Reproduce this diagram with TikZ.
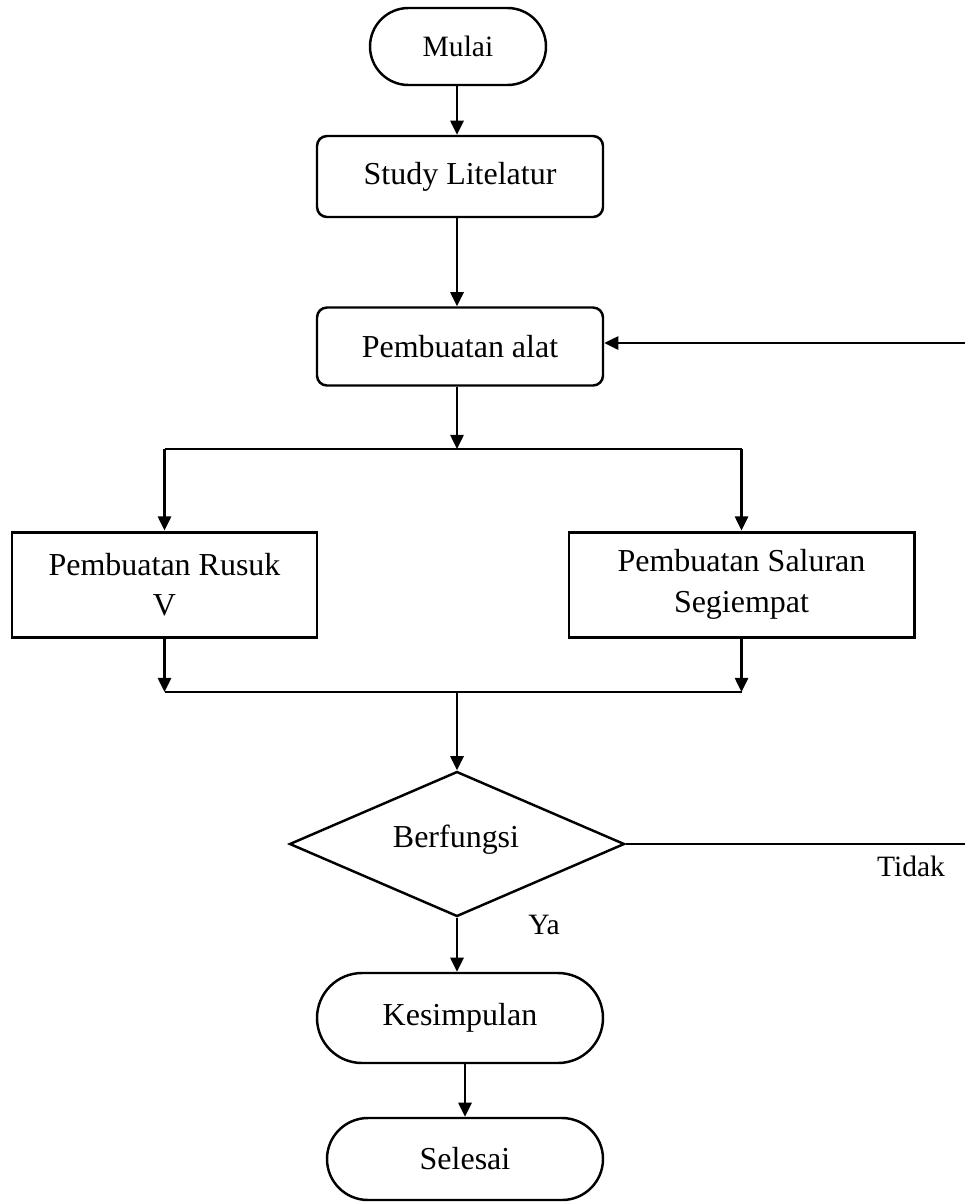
\documentclass[tikz,border=0pt]{standalone}
\usepackage{fontspec}
\setmainfont{Liberation Serif}
\usepackage{tikz}
\usetikzlibrary{arrows.meta,shapes.geometric,shapes.misc}

\tikzset{
  garis/.style={line width=1.2pt},
  terminal/.style={draw, line width=1.4pt, rounded rectangle, inner sep=0pt},
  proses/.style={draw, line width=1.4pt, rectangle, rounded corners=0.2cm, inner sep=0pt},
  kotak/.style={draw, line width=1.7pt, rectangle, inner sep=0pt, align=center},
  putusan/.style={draw, line width=1.4pt, diamond, inner sep=0pt},
  kecil/.style={font=\fontsize{16.8}{20}\selectfont}
}

\begin{document}
\begin{tikzpicture}[scale=1, >={Triangle[length=8pt,width=7.5pt]}, font=\fontsize{18.2}{23}\selectfont]
\useasboundingbox (0,0) rectangle (19.3,-24.04);
\node[terminal, kecil, minimum width=3.52cm, minimum height=1.54cm] (mulai) at (9.16,-0.93) {Mulai};
\node[proses, minimum width=5.72cm, minimum height=1.62cm] (study) at (9.2,-3.53) {Study Litelatur};
\node[proses, minimum width=5.72cm, minimum height=1.56cm] (alat) at (9.2,-6.93) {Pembuatan alat};
\node[kotak, minimum width=6.1cm, minimum height=2.1cm] (rusuk) at (3.29,-11.69) {Pembuatan Rusuk\\V};
\node[kotak, minimum width=6.9cm, minimum height=2.1cm] (saluran) at (14.83,-11.69) {Pembuatan Saluran\\Segiempat};
\node[putusan, minimum width=6.7cm, minimum height=2.9cm] (fungsi) at (9.14,-16.88) {};
\node (teksfungsi) at (9.12,-16.8) {Berfungsi};
\node[terminal, minimum width=5.72cm, minimum height=1.8cm] (simpul) at (9.2,-20.36) {Kesimpulan};
\node[terminal, minimum width=5.52cm, minimum height=1.64cm] (selesai) at (9.3,-23.18) {Selesai};
\node[kecil] (tidak) at (18.22,-17.32) {Tidak};
\node[kecil] (ya) at (10.88,-18.5) {Ya};
\coordinate (cabang) at (9.14,-8.98);
\coordinate (gabung) at (9.14,-13.84);
\coordinate (tepiA) at (19.3,-6.86);
\coordinate (tepiB) at (19.3,-16.88);
\draw[garis,->] (mulai.south -| fungsi) -- (study.north -| fungsi);
\draw[garis,->] (study.south -| fungsi) -- (alat.north -| fungsi);
\draw[garis,->] (alat.south -| fungsi) -- (cabang);
\draw[garis] (cabang -| rusuk) -- (cabang -| saluran);
\foreach \n in {rusuk,saluran} {
    \draw[garis,->] (cabang -| \n) -- (\n.north);
    \draw[garis,->] (\n.south) -- (gabung -| \n);
}
\draw[garis] (gabung -| rusuk) -- (gabung -| saluran);
\draw[garis,->] (gabung) -- (fungsi.north);
\draw[garis] (fungsi.east) -- (tepiB);
\draw[garis,->] (tepiA) -- (alat.east |- tepiA);
\draw[garis,->] (fungsi.south) -- (simpul.north -| fungsi);
\draw[garis,->] (simpul.south -| selesai) -- (selesai.north);
\end{tikzpicture}
\end{document}
